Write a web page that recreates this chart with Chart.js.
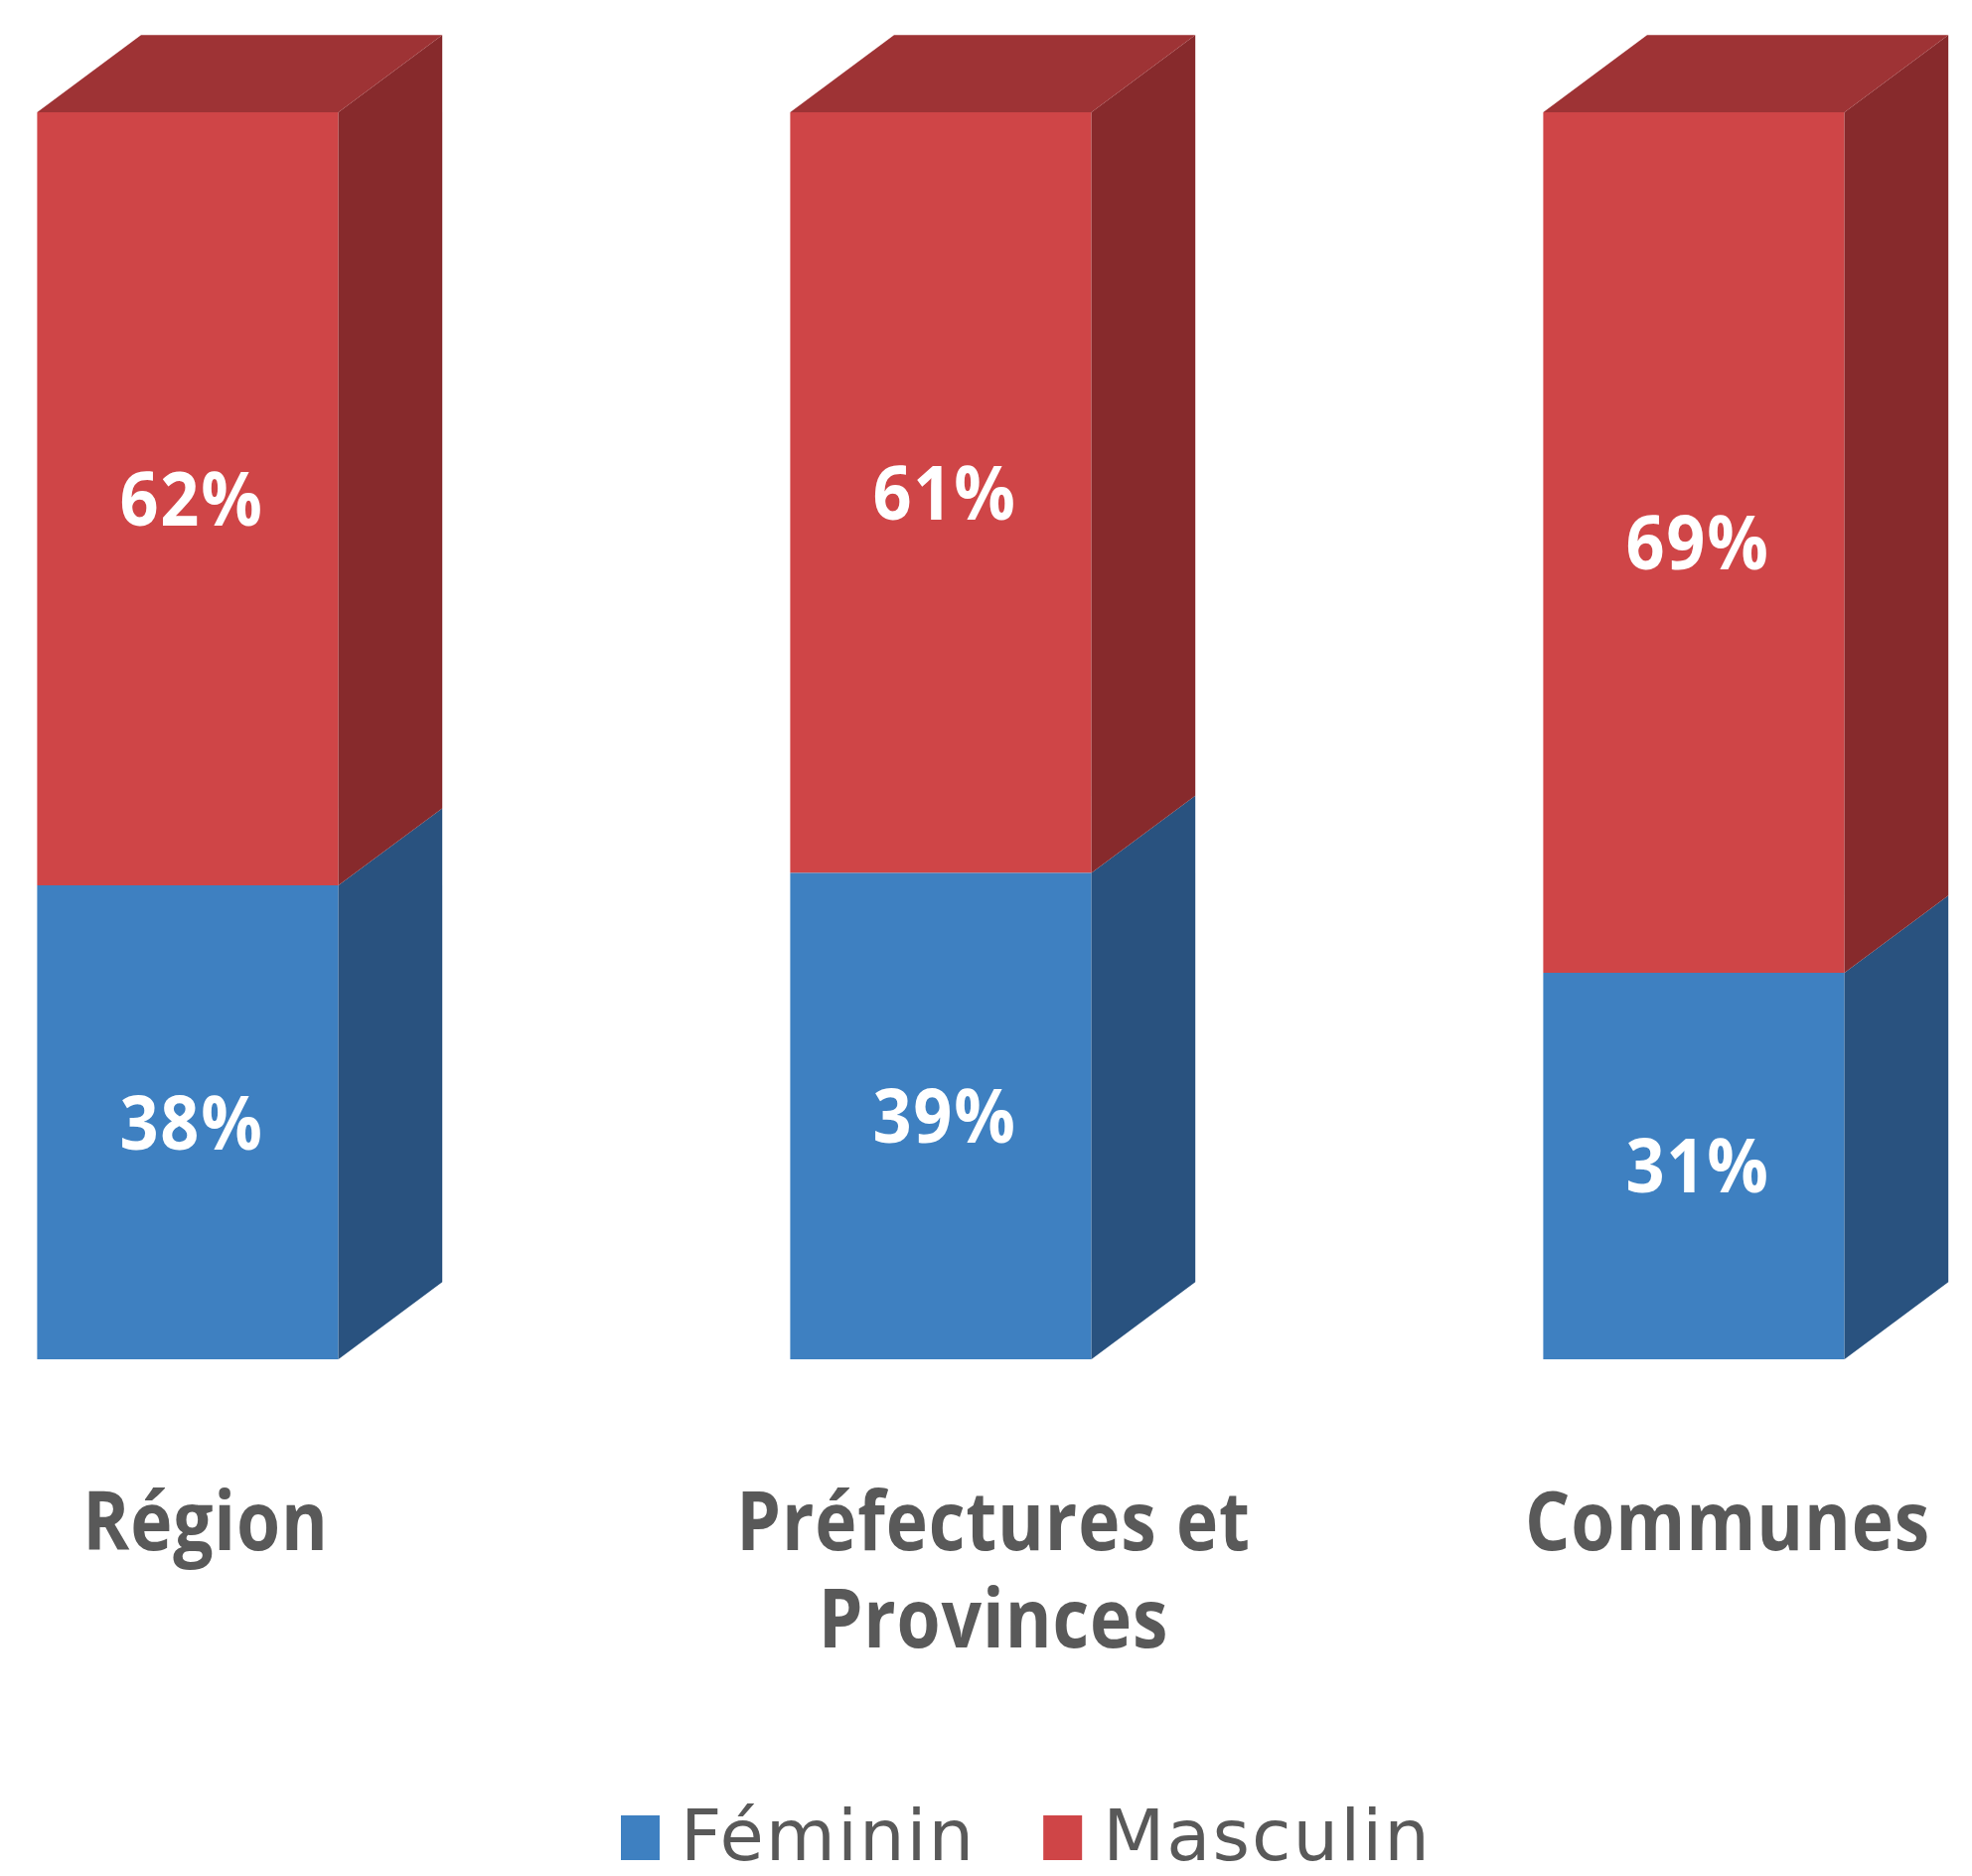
<!DOCTYPE html>
<html lang="fr">
<head>
<meta charset="UTF-8">
<title>Répartition par sexe</title>
<script src="https://cdn.jsdelivr.net/npm/chart.js"></script>
<style>
  html, body { margin: 0; padding: 0; background: #fff; }
  #wrap { width: 1985px; height: 1888px; position: relative; }
</style>
</head>
<body>
<div id="wrap"><canvas id="genderChart"></canvas></div>
<script>
// categories and shares (%)
const categories = ["Région", ["Préfectures et", "Provinces"], "Communes"];
const feminin = [38, 39, 31];
const masculin = [62, 61, 69];
const seriesNames = ["Féminin", "Masculin"];

const frontColors = ["#3E80C1", "#CF4547"];
const sideColors = ["#29527F", "#872A2C"];
const topColor = "#9E3335";
const textGray = "#595959";

// draw text squeezed horizontally around x
function squeezedText(ctx, text, x, y, sx) {
    ctx.save();
    ctx.translate(x, y);
    ctx.scale(sx, 1);
    ctx.fillText(text, 0, 0);
    ctx.restore();
}

// side and top faces so the stacked bars look like boxes
const boxFaces = {
    id: "boxFaces",
    afterDatasetsDraw(chart) {
        const ctx = chart.ctx;
        const count = chart.data.datasets.length;
        ctx.save();
        chart.data.labels.forEach((_, i) => {
            for (let d = 0; d < count; d++) {
                const bar = chart.getDatasetMeta(d).data[i];
                const right = bar.x + bar.width / 2;
                const left = bar.x - bar.width / 2;
                const top = Math.min(bar.y, bar.base);
                const bottom = Math.max(bar.y, bar.base);
                const dx = bar.width * 0.345;
                const dy = dx * 0.743;

                ctx.fillStyle = sideColors[d];
                ctx.beginPath();
                ctx.moveTo(right, bottom);
                ctx.lineTo(right + dx, bottom - dy);
                ctx.lineTo(right + dx, top - dy);
                ctx.lineTo(right, top);
                ctx.closePath();
                ctx.fill();

                if (d === count - 1) {
                    ctx.fillStyle = topColor;
                    ctx.beginPath();
                    ctx.moveTo(left, top);
                    ctx.lineTo(left + dx, top - dy);
                    ctx.lineTo(right + dx, top - dy);
                    ctx.lineTo(right, top);
                    ctx.closePath();
                    ctx.fill();
                }
            }
        });
        ctx.restore();
    }
};

// value labels, category names and legend
const annotations = {
    id: "annotations",
    afterDraw(chart) {
        const ctx = chart.ctx;
        const xScale = chart.scales.x;
        ctx.save();
        ctx.textAlign = "center";
        ctx.textBaseline = "alphabetic";

        // percentages inside each segment
        ctx.fillStyle = "#ffffff";
        ctx.font = "bold 76px 'Open Sans'";
        ctx.letterSpacing = "2px";
        chart.data.datasets.forEach((ds, d) => {
            chart.getDatasetMeta(d).data.forEach((bar, i) => {
                const mid = (bar.y + bar.base) / 2;
                squeezedText(ctx, ds.data[i] + "%", bar.x + 4, mid + 27, 0.9);
            });
        });

        // category names under the boxes
        const shift = [18, 53, 34];
        ctx.fillStyle = textGray;
        ctx.font = "bold 82px 'Open Sans'";
        ctx.letterSpacing = "1px";
        chart.data.labels.forEach((label, i) => {
            const lines = Array.isArray(label) ? label : [label];
            const x = xScale.getPixelForValue(i) + shift[i];
            lines.forEach((line, k) => {
                squeezedText(ctx, line, x, 1560 + k * 98, 0.87);
            });
        });

        // legend
        ctx.textAlign = "left";
        ctx.font = "72px 'DejaVu Sans'";
        ctx.letterSpacing = "2px";
        let x = 625;
        chart.data.datasets.forEach((ds, d) => {
            ctx.fillStyle = ds.backgroundColor;
            ctx.fillRect(x, 1827, 39, 45);
            x += 60;
            ctx.fillStyle = textGray;
            ctx.fillText(ds.label, x, 1872);
            x += ctx.measureText(ds.label).width + 68;
        });
        ctx.restore();
    }
};

new Chart(document.getElementById("genderChart"), {
    type: "bar",
    data: {
        labels: categories,
        datasets: [
            { label: seriesNames[0], data: feminin, backgroundColor: frontColors[0], clip: false },
            { label: seriesNames[1], data: masculin, backgroundColor: frontColors[1], clip: false }
        ]
    },
    options: {
        responsive: true,
        maintainAspectRatio: false,
        animation: false,
        layout: { padding: { left: 189, right: 280, top: 113, bottom: 520 } },
        datasets: { bar: { categoryPercentage: 1, barPercentage: 0.4 } },
        plugins: {
            legend: { display: false },
            tooltip: { enabled: false }
        },
        scales: {
            x: { stacked: true, offset: false, display: false },
            y: { stacked: true, min: 0, max: 100, display: false }
        }
    },
    plugins: [boxFaces, annotations]
});
</script>
</body>
</html>
